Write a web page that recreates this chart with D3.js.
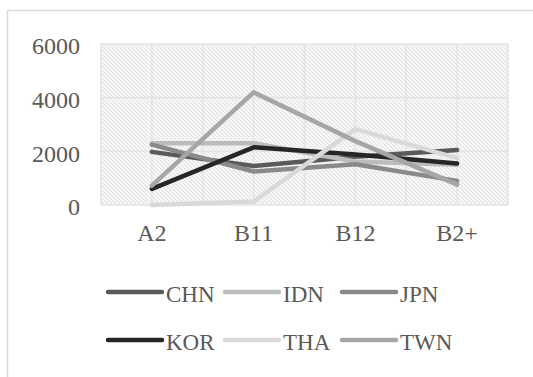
<!DOCTYPE html>
<html>
<head>
<meta charset="utf-8">
<script src="https://cdn.jsdelivr.net/npm/d3@7"></script>
<style>
  html, body { margin: 0; padding: 0; background: #ffffff; }
  svg { display: block; }
</style>
</head>
<body>
<div id="chart"></div>
<script>
// ---- data ----
const categories = ["A2", "B11", "B12", "B2+"];
const seriesNames = ["CHN", "IDN", "JPN", "KOR", "THA", "TWN"];
const CHN = [1980, 1450, 1800, 2050];
const IDN = [2300, 2300, 1620, 1500];
const JPN = [2250, 1250, 1520, 900];
const KOR = [600, 2150, 1880, 1550];
const THA = [0, 130, 2830, 1750];
const TWN = [720, 4200, 2380, 760];
const yTicks = [0, 2000, 4000, 6000];
const seriesColors = ["#5a5a5a", "#bcbcbc", "#8a8a8a", "#262626", "#d9d9d9", "#a6a6a6"];

const seriesValues = [CHN, IDN, JPN, KOR, THA, TWN];
const series = seriesNames.map((n, i) => ({ name: n, values: seriesValues[i], color: seriesColors[i] }));

const W = 533, H = 377;
const svg = d3.select("#chart").append("svg").attr("width", W).attr("height", H);

// pattern fill for plot area
const defs = svg.append("defs");
const pat = defs.append("pattern").attr("id", "dots")
  .attr("patternUnits", "userSpaceOnUse").attr("width", 4).attr("height", 4);
pat.append("rect").attr("width", 4).attr("height", 4).attr("fill", "#f6f6f6");
pat.append("rect").attr("x", 0).attr("y", 0).attr("width", 1).attr("height", 1).attr("fill", "#dedede");
pat.append("rect").attr("x", 1).attr("y", 1).attr("width", 1).attr("height", 1).attr("fill", "#e2e2e2");
pat.append("rect").attr("x", 2).attr("y", 2).attr("width", 1).attr("height", 1).attr("fill", "#dedede");
pat.append("rect").attr("x", 3).attr("y", 3).attr("width", 1).attr("height", 1).attr("fill", "#e2e2e2");

// outer chart border
svg.append("rect").attr("x", 7.5).attr("y", 10.5).attr("width", 600).attr("height", 400)
  .attr("fill", "none").attr("stroke", "#d9d9d9").attr("stroke-width", 1.5);

const x = d3.scaleBand().domain(categories).range([101, 508]).padding(0);
const y = d3.scaleLinear().domain([0, 6000]).range([205, 44]);
const cx = d => x(d) + x.bandwidth() / 2;

// plot area
svg.append("rect").attr("x", 101).attr("y", 44).attr("width", 407).attr("height", 161)
  .attr("fill", "url(#dots)");

// vertical gridlines (band edges and centers)
const vLines = [];
categories.forEach(c => { vLines.push(x(c)); vLines.push(cx(c)); });
vLines.push(x(categories[categories.length - 1]) + x.bandwidth());
svg.append("g").selectAll("line").data(vLines).join("line")
  .attr("x1", d => d).attr("x2", d => d).attr("y1", 44).attr("y2", 205)
  .attr("stroke", "#e4e4e4").attr("stroke-width", 1.6);

// horizontal gridlines
svg.append("g").selectAll("line").data(yTicks).join("line")
  .attr("x1", 101).attr("x2", 508).attr("y1", d => y(d)).attr("y2", d => y(d))
  .attr("stroke", "#e4e4e4").attr("stroke-width", 1.6);

const font = "'Liberation Serif', 'Times New Roman', serif";
const textColor = "#595959";

// y axis labels
const yAxis = d3.axisLeft(y).tickValues(yTicks).tickSize(0).tickPadding(0).tickFormat(d3.format("d"));
const gy = svg.append("g").attr("transform", "translate(80,2)").call(yAxis);
gy.select(".domain").remove();
gy.selectAll("text").attr("font-family", font).attr("font-size", 24).attr("fill", textColor);

// x axis labels
const xAxis = d3.axisBottom(x).tickSize(0).tickPadding(0);
const gx = svg.append("g").attr("transform", "translate(0,224)").call(xAxis);
gx.select(".domain").remove();
gx.selectAll("text").attr("font-family", font).attr("font-size", 24).attr("fill", textColor)
  .attr("dy", "0.71em");

// lines
const line = d3.line().x((d, i) => cx(categories[i])).y(d => y(d));
svg.append("g").selectAll("path").data(series).join("path")
  .attr("d", s => line(s.values))
  .attr("fill", "none").attr("stroke", s => s.color)
  .attr("stroke-width", 4.5).attr("stroke-linejoin", "round").attr("stroke-linecap", "round");

// legend
const legendCols = [108, 225, 342];
const legendRows = [292, 340];
const lg = svg.append("g").selectAll("g").data(series).join("g")
  .attr("transform", (d, i) => `translate(${legendCols[i % 3]},${legendRows[Math.floor(i / 3)]})`);
lg.append("line").attr("x1", 0).attr("x2", 54).attr("y1", 0).attr("y2", 0)
  .attr("stroke", d => d.color).attr("stroke-width", 4.5).attr("stroke-linecap", "round");
lg.append("text").attr("x", 58).attr("y", 9.5).text(d => d.name)
  .attr("font-family", font).attr("font-size", 23).attr("fill", textColor);
</script>
</body>
</html>
